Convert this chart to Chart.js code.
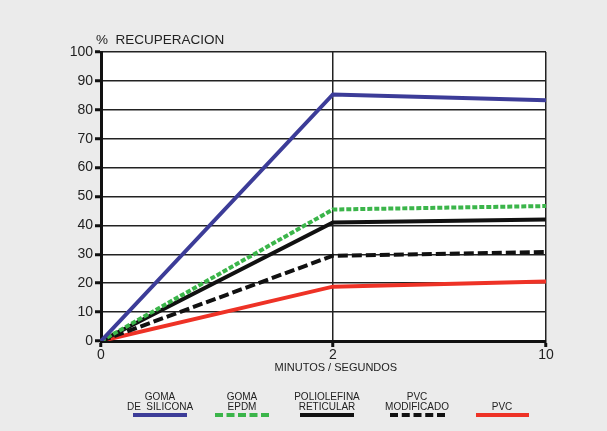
<!DOCTYPE html>
<html>
<head>
<meta charset="utf-8">
<script src="https://cdn.jsdelivr.net/npm/chart.js@4.4.1/dist/chart.umd.min.js"></script>
<style>
  body { margin: 0; background: #ebebeb; font-family: "Liberation Sans", Arial, sans-serif; }
  #wrap { position: relative; width: 607px; height: 431px; }
  #legend { position: absolute; left: 0; top: 0; width: 607px; height: 431px; pointer-events: none; }
  .item { position: absolute; text-align: center; font-size: 10px; line-height: 10px; color: #222; }
  .sample { position: absolute; height: 0; }
</style>
</head>
<body>
<div id="wrap">
  <canvas id="myChart" width="607" height="431"></canvas>
  <div id="legend"></div>
</div>
<script>
// x categories (minutes / seconds)
const xLabels = ["0", "2", "10"];

// % recuperacion per material
const silicona = [0, 85.3, 83.3];
const epdm = [0, 45.5, 46.7];
const poliolefina = [0, 41, 42];
const pvcModificado = [0, 29.5, 30.8];
const pvc = [0, 18.8, 20.6];

const seriesNames = [
  ["GOMA", "DE  SILICONA"],
  ["GOMA", "EPDM"],
  ["POLIOLEFINA", "RETICULAR"],
  ["PVC", "MODIFICADO"],
  ["PVC"]
];

const blue = "#3c3c98";
const green = "#3bb54a";
const black = "#111111";
const red = "#ee3226";

//Category scale whose segments are not all the same width (stops = fractions of the width)
class SplitCategoryScale extends Chart.CategoryScale {
  getPixelForValue(value) {
    if (typeof value !== "number") value = this.parse(value);
    if (value === null || value === undefined) return NaN;
    const stops = this.options.stops;
    const i = Math.max(0, Math.min(stops.length - 2, Math.floor(value)));
    const dec = stops[i] + (stops[i + 1] - stops[i]) * (value - i);
    return this.getPixelForDecimal(dec);
  }
}
SplitCategoryScale.id = "splitCategory";
Chart.register(SplitCategoryScale);

const ctx = document.getElementById("myChart").getContext("2d");

//White plot area
const plotBgPlugin = {
  id: "plotBg",
  beforeDraw(chart) {
    const a = chart.chartArea;
    chart.ctx.save();
    chart.ctx.fillStyle = "#ffffff";
    chart.ctx.fillRect(a.left, a.top, a.right - a.left, a.bottom - a.top);
    chart.ctx.restore();
  }
};

//Draws the axis titles as text on the canvas
const titlesPlugin = {
  id: "titles",
  afterDraw(chart) {
    const c = chart.ctx;
    const area = chart.chartArea;
    c.save();
    c.fillStyle = "#222";
    c.font = "13.5px 'Liberation Sans', Arial, sans-serif";
    c.textBaseline = "alphabetic";
    c.fillText("%  RECUPERACION", area.left - 5, 44);
    c.font = "11px 'Liberation Sans', Arial, sans-serif";
    c.textAlign = "center";
    const xs = chart.scales.x.getPixelForValue(1);
    c.fillText("MINUTOS / SEGUNDOS", xs + 3, 371);
    c.restore();
  }
};

new Chart(ctx, {
  type: "line",
  data: {
    labels: xLabels,
    datasets: [
      { label: seriesNames[0].join(" "), data: silicona, borderColor: blue, borderWidth: 4 },
      { label: seriesNames[1].join(" "), data: epdm, borderColor: green, borderWidth: 4, borderDash: [5, 2] },
      { label: seriesNames[2].join(" "), data: poliolefina, borderColor: black, borderWidth: 4 },
      { label: seriesNames[3].join(" "), data: pvcModificado, borderColor: black, borderWidth: 4, borderDash: [10, 4] },
      { label: seriesNames[4].join(" "), data: pvc, borderColor: red, borderWidth: 4 }
    ]
  },
  options: {
    responsive: false,
    animation: false,
    layout: { padding: { left: 0, right: 61, top: 52, bottom: 0 } },
    elements: { point: { radius: 0 }, line: { tension: 0, borderCapStyle: "butt" } },
    plugins: { legend: { display: false }, tooltip: { enabled: false } },
    scales: {
      x: {
        type: "splitCategory",
        stops: [0, 0.521, 1],
        offset: false,
        afterFit: (scale) => { scale.height = 90; },
        grid: { color: "#222", lineWidth: 1.5, tickLength: 6, tickWidth: 3, tickColor: "#111" },
        border: { color: "#111", width: 3 },
        ticks: { color: "#222", font: { size: 14, family: "'Liberation Sans', Arial" }, padding: 0, maxRotation: 0 }
      },
      y: {
        min: 0,
        max: 100,
        afterFit: (scale) => { scale.width = 101; },
        grid: { color: "#222", lineWidth: 1.5, tickLength: 6, tickWidth: 3, tickColor: "#111" },
        border: { color: "#111", width: 3 },
        ticks: { stepSize: 10, color: "#222", font: { size: 14, family: "'Liberation Sans', Arial" }, padding: 2 }
      }
    }
  },
  plugins: [plotBgPlugin, titlesPlugin]
});

//Legend built in HTML from series names
const legendItems = [
  { cx: 160, w: 54, style: "border-top: 4px solid " + blue },
  { cx: 242, w: 54, style: "border-top: 4px dashed " + green },
  { cx: 327, w: 54, style: "border-top: 4px solid " + black },
  { cx: 417, w: 55, style: "border-top: 4px dashed " + black },
  { cx: 502, w: 53, style: "border-top: 4px solid " + red }
];
const legend = document.getElementById("legend");
seriesNames.forEach((name, i) => {
  const it = legendItems[i];
  const txt = document.createElement("div");
  txt.className = "item";
  txt.style.left = (it.cx - 60) + "px";
  txt.style.width = "120px";
  txt.style.top = (name.length === 2 ? 392 : 402) + "px";
  txt.innerHTML = name.map(s => s.replace(/ /g, "&nbsp;")).join("<br>");
  legend.appendChild(txt);
  const line = document.createElement("div");
  line.className = "sample";
  line.style.cssText += it.style;
  line.style.left = (it.cx - it.w / 2) + "px";
  line.style.width = it.w + "px";
  line.style.top = "413px";
  legend.appendChild(line);
});
</script>
</body>
</html>
